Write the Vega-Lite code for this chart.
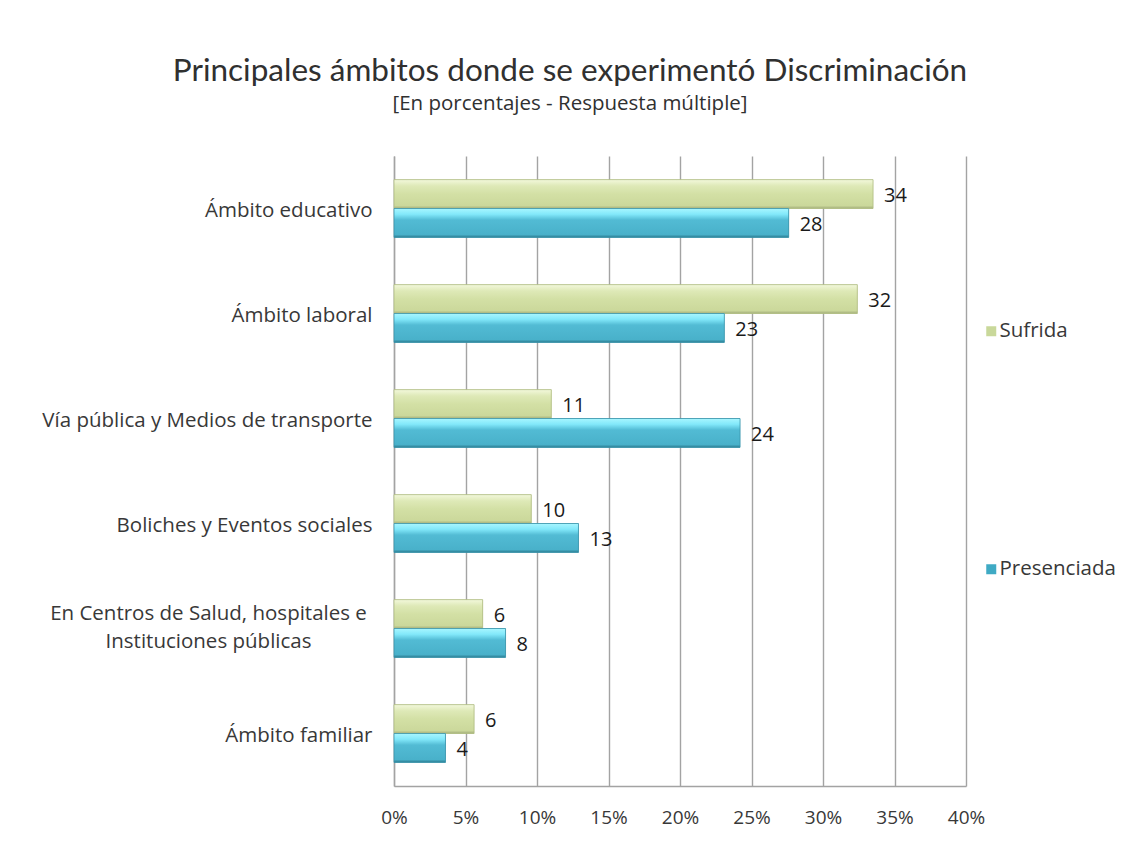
{
  "$schema": "https://vega.github.io/schema/vega-lite/v6.json",
  "width": 572,
  "height": 630,
  "autosize": {"type": "none"},
  "padding": {"left": 394, "top": 156, "right": 161, "bottom": 65},
  "background": "white",
  "title": {
    "text": "Principales ámbitos donde se experimentó Discriminación",
    "subtitle": "[En porcentajes - Respuesta múltiple]",
    "anchor": "middle",
    "frame": "group",
    "dx": -110,
    "offset": 42,
    "font": "Lato",
    "fontSize": 31.5,
    "fontWeight": "normal",
    "color": "#303030",
    "subtitleFont": "Open Sans",
    "subtitleFontSize": 20.5,
    "subtitleColor": "#303030",
    "subtitlePadding": 6
  },
  "data": {
    "values": [
      {"ambito": "Ámbito educativo", "tipo": "Sufrida", "valor": 33.5},
      {"ambito": "Ámbito educativo", "tipo": "Presenciada", "valor": 27.6},
      {"ambito": "Ámbito laboral", "tipo": "Sufrida", "valor": 32.4},
      {"ambito": "Ámbito laboral", "tipo": "Presenciada", "valor": 23.1},
      {"ambito": "Vía pública y Medios de transporte", "tipo": "Sufrida", "valor": 11.0},
      {"ambito": "Vía pública y Medios de transporte", "tipo": "Presenciada", "valor": 24.2},
      {"ambito": "Boliches y Eventos sociales", "tipo": "Sufrida", "valor": 9.6},
      {"ambito": "Boliches y Eventos sociales", "tipo": "Presenciada", "valor": 12.9},
      {"ambito": "En Centros de Salud, hospitales e Instituciones públicas", "tipo": "Sufrida", "valor": 6.2},
      {"ambito": "En Centros de Salud, hospitales e Instituciones públicas", "tipo": "Presenciada", "valor": 7.8},
      {"ambito": "Ámbito familiar", "tipo": "Sufrida", "valor": 5.6},
      {"ambito": "Ámbito familiar", "tipo": "Presenciada", "valor": 3.6}
    ]
  },
  "encoding": {
    "y": {
      "field": "ambito",
      "type": "nominal",
      "sort": [
        "Ámbito educativo",
        "Ámbito laboral",
        "Vía pública y Medios de transporte",
        "Boliches y Eventos sociales",
        "En Centros de Salud, hospitales e Instituciones públicas",
        "Ámbito familiar"
      ],
      "scale": {"paddingInner": 0.45, "paddingOuter": 0.225},
      "axis": {
        "title": null,
        "ticks": false,
        "grid": false,
        "domainColor": "#A3A3A3",
        "domainWidth": 1.4,
        "labelFont": "Open Sans",
        "labelFontSize": 20.5,
        "labelColor": "#383838",
        "labelLimit": 400,
        "labelLineHeight": 28,
        "labelExpr": "datum.value == 'En Centros de Salud, hospitales e Instituciones públicas' ? ['En Centros de Salud, hospitales e', 'Instituciones públicas'] : datum.label",
        "labelAlign": {
          "condition": {"test": "datum.value == 'En Centros de Salud, hospitales e Instituciones públicas'", "value": "center"},
          "value": "right"
        },
        "labelPadding": {
          "condition": {"test": "datum.value == 'En Centros de Salud, hospitales e Instituciones públicas'", "value": 186},
          "value": 22
        },
        "labelOffset": {
          "condition": {"test": "datum.value == 'En Centros de Salud, hospitales e Instituciones públicas'", "value": -15},
          "value": 2
        }
      }
    },
    "yOffset": {"field": "tipo", "type": "nominal", "sort": ["Sufrida", "Presenciada"]},
    "x": {
      "field": "valor",
      "type": "quantitative",
      "scale": {"domain": [0, 40]},
      "axis": {
        "title": null,
        "values": [0, 5, 10, 15, 20, 25, 30, 35, 40],
        "labelExpr": "datum.value + '%'",
        "grid": true,
        "gridColor": "#A3A3A3",
        "gridWidth": 1.4,
        "domainColor": "#A3A3A3",
        "domainWidth": 1.4,
        "ticks": false,
        "labelPadding": 22,
        "labelFont": "Open Sans",
        "labelFontSize": 19,
        "labelColor": "#383838",
        "labelFlush": false
      }
    }
  },
  "layer": [
    {
      "mark": {"type": "bar"},
      "encoding": {
        "color": {
          "field": "tipo",
          "type": "nominal",
          "scale": {"domain": ["Sufrida", "Presenciada"], "range": ["#C9D89A", "#3FAAC4"]},
          "legend": {
            "orient": "none",
            "legendX": 587,
            "legendY": 165,
            "direction": "vertical",
            "title": null,
            "symbolType": "square",
            "symbolSize": 100,
            "symbolStrokeWidth": 0,
            "labelFont": "Open Sans",
            "labelFontSize": 20.5,
            "labelColor": "#383838",
            "labelOffset": -2,
            "rowPadding": 217,
            "padding": 0
          }
        }
      }
    },
    {
      "transform": [{"filter": "datum.tipo == 'Sufrida'"}],
      "mark": {
        "type": "bar",
        "stroke": "#AEBB80",
        "strokeWidth": 0.8,
        "fill": {
          "gradient": "linear",
          "x1": 0, "y1": 0, "x2": 0, "y2": 1,
          "stops": [
            {"offset": 0, "color": "#F3F8DC"},
            {"offset": 0.22, "color": "#DEE9B7"},
            {"offset": 0.5, "color": "#D3E0A5"},
            {"offset": 0.9, "color": "#CBD89B"},
            {"offset": 1, "color": "#A3AE7A"}
          ]
        }
      }
    },
    {
      "transform": [{"filter": "datum.tipo == 'Presenciada'"}],
      "mark": {
        "type": "bar",
        "stroke": "#3A93AA",
        "strokeWidth": 0.8,
        "fill": {
          "gradient": "linear",
          "x1": 0, "y1": 0, "x2": 0, "y2": 1,
          "stops": [
            {"offset": 0, "color": "#A8F6FF"},
            {"offset": 0.2, "color": "#82E8FA"},
            {"offset": 0.4, "color": "#52BBD4"},
            {"offset": 0.9, "color": "#49B1CA"},
            {"offset": 1, "color": "#2E7E93"}
          ]
        }
      }
    },
    {
      "mark": {
        "type": "text",
        "align": "left",
        "baseline": "middle",
        "dx": 11,
        "dy": 2,
        "font": "Open Sans",
        "fontSize": 20,
        "color": "#1A1A1A"
      },
      "encoding": {
        "text": {"field": "valor", "type": "quantitative", "format": ".0f"}
      }
    }
  ],
  "config": {"view": {"stroke": null}}
}
